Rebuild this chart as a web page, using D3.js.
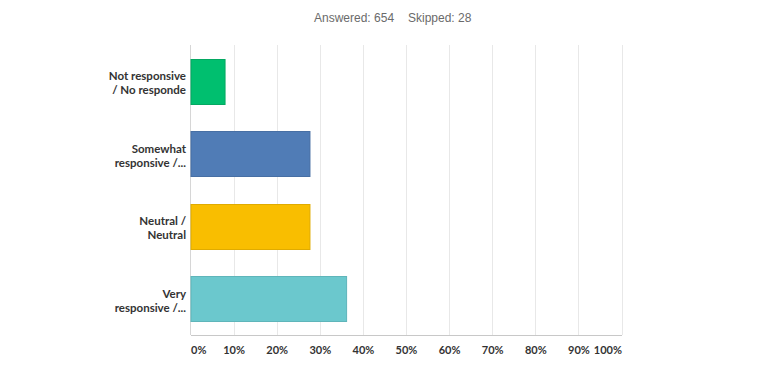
<!DOCTYPE html>
<html>
<head>
<meta charset="utf-8">
<script src="https://cdn.jsdelivr.net/npm/d3@7"></script>
<style>
  body { margin: 0; background: #fff; }
  svg { display: block; }
  .header { font-family: "Liberation Sans", Arial, sans-serif; font-size: 12px; fill: #6a6a6a; }
  .cat { font-family: "Lato", "Open Sans", sans-serif; font-size: 11.5px; font-weight: 700; fill: #333; }
  .tick-lbl { font-family: "Lato", "Open Sans", sans-serif; font-size: 11px; font-weight: 700; fill: #333; }
</style>
</head>
<body>
<svg width="768" height="384" viewBox="0 0 768 384"></svg>
<script>
// answer options (two lines each) and share of answers
let categories = [
  ["Not responsive", "/ No responde"],
  ["Somewhat", "responsive /..."],
  ["Neutral /", "Neutral"],
  ["Very", "responsive /..."],
];
let values = [7.9, 27.6, 27.6, 36.1];
let colors = ["#00bf6f", "#507cb6", "#f9be00", "#6bc8cd"];
let strokes = ["#05a862", "#476fa4", "#e0ab00", "#5fb5ba"];
let ticks = [0, 10, 20, 30, 40, 50, 60, 70, 80, 90, 100];
let answered = 654;
let skipped = 28;

let svg = d3.select("svg");
let plot = { left: 190.5, right: 621.5, top: 45, bottom: 335 };

let xScale = d3.scaleLinear().domain([0, 100]).range([plot.left, plot.right]);
let yScale = d3
  .scaleBand()
  .domain(d3.range(categories.length))
  .range([plot.top, plot.bottom])
  .paddingInner(0.38)
  .paddingOuter(0.19);

// header
let head = svg.append("g").attr("class", "header");
head.append("text").attr("x", 314).attr("y", 22).text("Answered: " + answered);
head.append("text").attr("x", 408).attr("y", 22).text("Skipped: " + skipped);

// gridlines
svg
  .append("g")
  .selectAll("line")
  .data(ticks.slice(1))
  .enter()
  .append("line")
  .attr("x1", (d) => Math.round(xScale(d)) + 0.5)
  .attr("x2", (d) => Math.round(xScale(d)) + 0.5)
  .attr("y1", plot.top)
  .attr("y2", plot.bottom)
  .attr("stroke", "#e8e8e8")
  .attr("stroke-width", 1);

// left axis line
svg
  .append("line")
  .attr("x1", plot.left)
  .attr("x2", plot.left)
  .attr("y1", plot.top)
  .attr("y2", plot.bottom)
  .attr("stroke", "#d6d6d6");

// bars
svg
  .append("g")
  .selectAll("rect")
  .data(values)
  .enter()
  .append("rect")
  .attr("x", xScale(0) + 0.5)
  .attr("y", (d, i) => Math.round(yScale(i)) + 0.5)
  .attr("width", (d) => xScale(d) - xScale(0))
  .attr("height", Math.round(yScale.bandwidth()))
  .attr("fill", (d, i) => colors[i])
  .attr("stroke", (d, i) => strokes[i])
  .attr("stroke-width", 1);

// bottom axis
let xAxis = svg
  .append("g")
  .attr("transform", `translate(0,${plot.bottom})`)
  .call(
    d3
      .axisBottom(xScale)
      .tickValues(ticks)
      .tickSize(0)
      .tickPadding(11)
      .tickFormat((d) => d + "%")
  );
xAxis.select(".domain").attr("stroke", "#c8c8c8");
xAxis
  .selectAll("text")
  .attr("class", "tick-lbl")
  .attr("font-family", null)
  .attr("font-size", null)
  .attr("fill", null)
  .attr("text-anchor", (d) => (d === 0 ? "start" : d === 100 ? "end" : "middle"));

// category labels
let lbl = svg
  .append("g")
  .selectAll("text")
  .data(categories)
  .enter()
  .append("text")
  .attr("class", "cat")
  .attr("text-anchor", "end")
  .attr("y", (d, i) => yScale(i) + yScale.bandwidth() / 2);
lbl
  .selectAll("tspan")
  .data((d) => d)
  .enter()
  .append("tspan")
  .attr("x", 186)
  .attr("dy", (d, j) => (j === 0 ? "-1" : "14"))
  .text((d) => d);
</script>
</body>
</html>
